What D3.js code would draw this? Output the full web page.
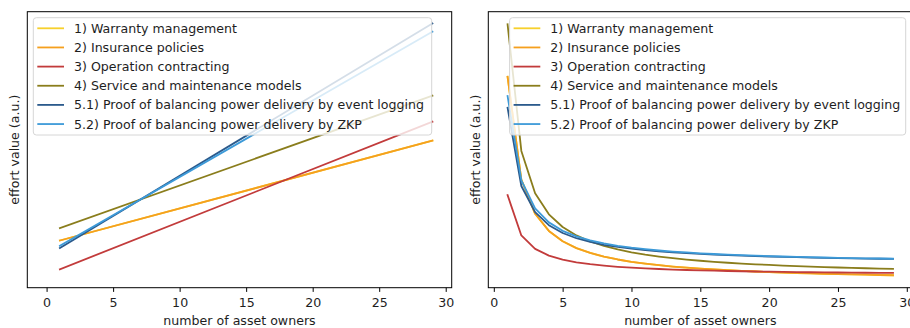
<!DOCTYPE html>
<html>
<head>
<meta charset="utf-8">
<script src="https://cdn.jsdelivr.net/npm/d3@7"></script>
<style>
  html, body { margin: 0; padding: 0; background: #fff; }
  svg { display: block; font-family: "DejaVu Sans", sans-serif; }
</style>
</head>
<body>
<svg id="chart" width="910" height="328"></svg>
<script>
// ---------- data ----------
const seriesNames = [
  "1) Warranty management",
  "2) Insurance policies",
  "3) Operation contracting",
  "4) Service and maintenance models",
  "5.1) Proof of balancing power delivery by event logging",
  "5.2) Proof of balancing power delivery by ZKP"
];
const seriesColors = ["#f7d02c", "#f5a01e", "#c23b3b", "#8a7d1c", "#2b5a8c", "#3d9ad8"];

// left panel: total effort (straight lines, endpoints at n = 1 and n = 29)
const leftOwners = [1, 29];
const leftWarranty    = [17.10, 53.26];
const leftInsurance   = [17.10, 53.26];
const leftOperation   = [6.67, 60.14];
const leftService     = [21.63, 69.57];
const leftEventLog    = [14.38, 95.72];
const leftZKP         = [15.18, 92.75];

// right panel: effort per asset owner, n = 1..29
const rightOwners = [1,2,3,4,5,6,7,8,9,10,11,12,13,14,15,16,17,18,19,20,21,22,23,24,25,26,27,28,29];
const rightWarranty = [76.56,39.35,26.95,20.75,17.02,14.54,12.77,11.44,10.41,9.58,8.91,8.34,7.86,7.46,7.10,6.79,6.52,6.27,6.06,5.86,5.68,5.52,5.38,5.24,5.12,5.00,4.90,4.80,4.71];
const rightInsurance = [76.56,39.35,26.95,20.75,17.02,14.54,12.77,11.44,10.41,9.58,8.91,8.34,7.86,7.46,7.10,6.79,6.52,6.27,6.06,5.86,5.68,5.52,5.38,5.24,5.12,5.00,4.90,4.80,4.71];
const rightOperation = [33.70,19.12,14.25,11.82,10.36,9.39,8.70,8.18,7.77,7.45,7.18,6.96,6.77,6.61,6.47,6.35,6.25,6.15,6.07,5.99,5.92,5.86,5.80,5.75,5.70,5.65,5.61,5.57,5.54];
const rightService = [95.54,49.69,34.41,26.77,22.18,19.12,16.94,15.30,14.03,13.01,12.18,11.48,10.89,10.39,9.95,9.57,9.23,8.93,8.67,8.43,8.21,8.01,7.83,7.66,7.51,7.37,7.24,7.12,7.00];
const rightEventLog = [65.33,37.00,27.55,22.83,19.99,18.11,16.76,15.74,14.96,14.33,13.81,13.38,13.02,12.71,12.44,12.20,11.99,11.81,11.64,11.49,11.36,11.24,11.12,11.02,10.93,10.84,10.76,10.68,10.61];
const rightZKP = [69.57,39.08,28.92,23.84,20.79,18.75,17.30,16.21,15.37,14.69,14.13,13.67,13.28,12.95,12.66,12.40,12.18,11.98,11.80,11.64,11.49,11.36,11.24,11.13,11.03,10.94,10.85,10.77,10.69];

const xTicks = [0, 5, 10, 15, 20, 25, 30];
const xLabel = "number of asset owners";
const yLabel = "effort value (a.u.)";

const leftXDomain = [-1.45, 30.45];
const leftYDomain = [0, 100];
const rightXDomain = [-0.4, 30.4];
const rightYDomain = [0.2, 100.1];

// ---------- drawing ----------
const svg = d3.select("#chart");
const FS = 12.6;
const TXT = "#1e1e1e";

function panel(cfg) {
  const { left, right, top, bottom, xs, ys, xDomain, yDomain, legendX, legendW } = cfg;
  const x = d3.scaleLinear().domain(xDomain).range([left, right]);
  const y = d3.scaleLinear().domain(yDomain).range([bottom, top]);
  const g = svg.append("g");

  const line = d3.line().x(d => x(d[0])).y(d => y(d[1]));
  ys.forEach((vals, i) => {
    g.append("path")
      .datum(xs.map((v, j) => [v, vals[j]]))
      .attr("d", line)
      .attr("fill", "none")
      .attr("stroke", seriesColors[i])
      .attr("stroke-width", 1.8)
      .attr("stroke-linejoin", "round")
      .attr("stroke-linecap", "square");
  });

  // spines
  g.append("rect")
    .attr("x", left).attr("y", top)
    .attr("width", right - left).attr("height", bottom - top)
    .attr("fill", "none").attr("stroke", "#000").attr("stroke-width", 1);

  // x axis
  const xAxis = d3.axisBottom(x).tickValues(xTicks).tickSize(4.2).tickPadding(6.5).tickFormat(d3.format("d"));
  const ax = g.append("g").attr("transform", `translate(0,${bottom})`).call(xAxis);
  ax.select(".domain").remove();
  ax.selectAll("line").attr("stroke", "#000").attr("stroke-width", 1);
  ax.selectAll("text").attr("font-size", FS).attr("fill", TXT)
    .attr("font-family", "DejaVu Sans");

  g.append("text")
    .attr("x", (left + right) / 2).attr("y", 325)
    .attr("text-anchor", "middle").attr("font-size", FS).attr("fill", TXT)
    .text(xLabel);

  g.append("text")
    .attr("transform", `translate(${left - 8},${(top + bottom) / 2}) rotate(-90)`)
    .attr("text-anchor", "middle").attr("font-size", FS).attr("fill", TXT)
    .text(yLabel);

  // legend
  const lg = g.append("g");
  lg.append("rect")
    .attr("x", legendX).attr("y", 17.7)
    .attr("width", legendW).attr("height", 117.3)
    .attr("rx", 3).attr("ry", 3)
    .attr("fill", "#fff").attr("fill-opacity", 0.8)
    .attr("stroke", "#d6d6d6").attr("stroke-width", 1);
  seriesNames.forEach((name, i) => {
    const cy = 28.3 + i * 19.15;
    lg.append("line")
      .attr("x1", legendX + 4).attr("x2", legendX + 30.7)
      .attr("y1", cy).attr("y2", cy)
      .attr("stroke", seriesColors[i]).attr("stroke-width", 1.8);
    lg.append("text")
      .attr("x", legendX + 40.7).attr("y", cy + 4.5)
      .attr("font-size", FS).attr("fill", TXT)
      .text(name);
  });
}

panel({
  left: 27.3, right: 451.7, top: 11.7, bottom: 287.7,
  xs: leftOwners,
  ys: [leftWarranty, leftInsurance, leftOperation, leftService, leftEventLog, leftZKP],
  xDomain: leftXDomain, yDomain: leftYDomain,
  legendX: 33.3, legendW: 398.4
});

panel({
  left: 488.3, right: 912.3, top: 11.7, bottom: 287.7,
  xs: rightOwners,
  ys: [rightWarranty, rightInsurance, rightOperation, rightService, rightEventLog, rightZKP],
  xDomain: rightXDomain, yDomain: rightYDomain,
  legendX: 509.6, legendW: 396.1
});
</script>
</body>
</html>
